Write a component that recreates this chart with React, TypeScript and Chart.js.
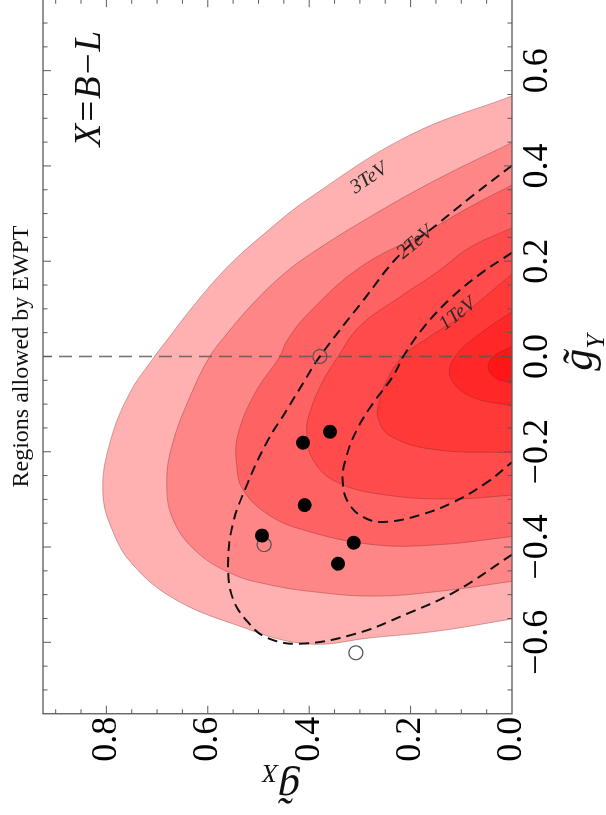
import React, { useEffect, useRef } from 'react';
import { Chart, registerables } from 'chart.js';

Chart.register(...registerables);

// ---------------- data (x axis: g~_Y, y axis: g~_X) ----------------
const gYMin = -0.75;
const gYMax = 0.75;
const gXMin = 0;
const gXMax = 0.925;

// filled EWPT contour levels, outermost first
const level1GY = [0.547, 0.464, 0.333, 0.262, 0.187, 0.104, 0.042, 0.0, -0.077, -0.181, -0.285, -0.368, -0.437, -0.507, -0.561, -0.603, -0.59, -0.576, -0.551];
const level1GX = [0, 0.203, 0.399, 0.484, 0.562, 0.63, 0.675, 0.705, 0.754, 0.793, 0.807, 0.787, 0.748, 0.669, 0.551, 0.407, 0.274, 0.144, 0];

const level2GY = [0.449, 0.374, 0.297, 0.214, 0.166, 0.104, 0.048, 0.0, -0.077, -0.181, -0.264, -0.341, -0.41, -0.457, -0.478, -0.493, -0.503, -0.493, -0.472];
const level2GX = [0, 0.144, 0.274, 0.399, 0.458, 0.517, 0.562, 0.596, 0.632, 0.669, 0.681, 0.669, 0.622, 0.551, 0.484, 0.399, 0.274, 0.144, 0];

const level3GY = [0.36, 0.314, 0.262, 0.187, 0.089, 0.033, 0.0, -0.077, -0.166, -0.229, -0.279, -0.331, -0.364, -0.395, -0.395, -0.378];
const level3GX = [0, 0.083, 0.168, 0.3, 0.403, 0.444, 0.458, 0.507, 0.541, 0.543, 0.531, 0.482, 0.412, 0.274, 0.144, 0];

const level4GY = [0.27, 0.229, 0.177, 0.125, 0.064, 0.0, -0.056, -0.112, -0.154, -0.216, -0.264, -0.291, -0.299, -0.291];
const level4GX = [0, 0.083, 0.148, 0.221, 0.3, 0.343, 0.375, 0.397, 0.405, 0.393, 0.345, 0.247, 0.116, 0];

const level5GY = [0.173, 0.083, 0.042, 0.0, -0.046, -0.091, -0.129, -0.166, -0.195, -0.202];
const level5GX = [0, 0.103, 0.162, 0.215, 0.245, 0.261, 0.264, 0.241, 0.156, 0];

const level6GY = [0.094, 0.048, 0.0, -0.042, -0.083, -0.104];
const level6GX = [0, 0.063, 0.112, 0.122, 0.083, 0];

const level7GY = [0.021, 0.002, -0.021, -0.044, -0.056];
const level7GX = [0, 0.034, 0.047, 0.034, 0];

// dashed mass contours
const tev2GY = [0.401, 0.333, 0.277, 0.214, 0.114, 0.0, -0.056, -0.112, -0.181, -0.27, -0.353, -0.437, -0.507, -0.555, -0.59, -0.603, -0.582, -0.541, -0.493, -0.416];
const tev2GX = [0, 0.083, 0.148, 0.221, 0.296, 0.379, 0.412, 0.444, 0.484, 0.523, 0.551, 0.56, 0.551, 0.523, 0.484, 0.418, 0.308, 0.209, 0.111, 0];

const tev1GY = [0.218, 0.173, 0.121, 0.064, 0.006, -0.042, -0.098, -0.154, -0.208, -0.264, -0.312, -0.341, -0.347, -0.333, -0.306, -0.264, -0.222];
const tev1GX = [0, 0.063, 0.122, 0.172, 0.211, 0.235, 0.274, 0.306, 0.326, 0.334, 0.32, 0.286, 0.247, 0.182, 0.116, 0.049, 0];

// benchmark points
const filledGY = [-0.376, -0.181, -0.158, -0.312, -0.391, -0.435];
const filledGX = [0.493, 0.412, 0.359, 0.409, 0.312, 0.343];
const openGY = [0.0, -0.395, -0.622];
const openGX = [0.379, 0.489, 0.308];

// contour labels
const contourLabels = ['3TeV', '2TeV', '1TeV'];
const contourLabelGY = [0.374, 0.239, 0.089];
const contourLabelGX = [0.282, 0.191, 0.107];

const titleText = 'Regions allowed by EWPT';
const modelText = 'X=B\u2212L';

// ---------------- styling ----------------
const SERIF = "'Liberation Serif', 'DejaVu Serif', serif";
const CW = 824;
const CH = 606;
const levelColors = ['#ffb1b1', '#ff8686', '#ff6262', '#ff4b4b', '#ff3838', '#ff2727', '#ff1717'];

const zip = (xs: number[], ys: number[]) => xs.map((x, i) => ({ x, y: ys[i] }));

const fmt = (v: number) => {
  const s = Math.abs(v) < 1e-9 ? '0.0' : v.toFixed(1);
  return s.replace('-', '\u2212');
};

const decor = {
  id: 'decor',
  afterDatasetsDraw(chart: any) {
    const { ctx, scales } = chart;
    const x = scales.x;
    const y = scales.y;
    ctx.save();
    ctx.fillStyle = '#2a2a2a';
    ctx.font = `italic 20px ${SERIF}`;
    ctx.textAlign = 'center';
    ctx.textBaseline = 'middle';
    const angles = [56, 50, 52];
    contourLabels.forEach((t, i) => {
      const px = x.getPixelForValue(contourLabelGY[i]);
      const py = y.getPixelForValue(contourLabelGX[i]);
      ctx.save();
      ctx.translate(px, py);
      ctx.rotate((angles[i] * Math.PI) / 180);
      ctx.fillText(t, 0, 0);
      ctx.restore();
    });
    ctx.restore();
  },
  afterDraw(chart: any) {
    const { ctx, chartArea: a, scales } = chart;
    const x = scales.x;
    const y = scales.y;
    ctx.save();
    // frame
    ctx.strokeStyle = '#5a5a5a';
    ctx.lineWidth = 1.3;
    ctx.strokeRect(a.left, a.top, a.right - a.left, a.bottom - a.top);
    // inward ticks
    ctx.lineWidth = 1;
    ctx.beginPath();
    for (let k = -14; k <= 14; k++) {
      const v = k * 0.05;
      const len = k % 4 === 0 ? 8 : 4.5;
      const px = x.getPixelForValue(v);
      ctx.moveTo(px, a.bottom);
      ctx.lineTo(px, a.bottom - len);
      ctx.moveTo(px, a.top);
      ctx.lineTo(px, a.top + len);
    }
    for (let k = 1; k <= 18; k++) {
      const v = k * 0.05;
      const len = k % 4 === 0 ? 8 : 4.5;
      const py = y.getPixelForValue(v);
      ctx.moveTo(a.left, py);
      ctx.lineTo(a.left + len, py);
      ctx.moveTo(a.right, py);
      ctx.lineTo(a.right - len, py);
    }
    ctx.stroke();

    ctx.fillStyle = '#111';
    // title
    ctx.font = `24px ${SERIF}`;
    ctx.textAlign = 'center';
    ctx.textBaseline = 'alphabetic';
    ctx.fillText(titleText, (a.left + a.right) / 2, 28);

    // model label
    ctx.font = `italic 37px ${SERIF}`;
    ctx.fillText(modelText, x.getPixelForValue(0.562), 100);

    // x axis title g~_Y
    ctx.textAlign = 'left';
    ctx.font = `italic 44px ${SERIF}`;
    const gx0 = x.getPixelForValue(-0.03);
    ctx.fillText('g\u0303', gx0, 592);
    ctx.font = `italic 26px ${SERIF}`;
    ctx.fillText('Y', gx0 + 22, 604);

    // y axis title g~_X (rotated)
    ctx.save();
    ctx.translate(40, y.getPixelForValue(0.418));
    ctx.rotate(-Math.PI / 2);
    ctx.font = `italic 44px ${SERIF}`;
    ctx.fillText('g\u0303', 0, 0);
    ctx.font = `italic 26px ${SERIF}`;
    ctx.fillText('X', 22, 10);
    ctx.restore();

    ctx.restore();
  },
};

export default function App() {
  const ref = useRef<HTMLCanvasElement>(null);
  useEffect(() => {
    if (!ref.current) return;
    const levels = [
      [level1GY, level1GX],
      [level2GY, level2GX],
      [level3GY, level3GX],
      [level4GY, level4GX],
      [level5GY, level5GX],
      [level6GY, level6GX],
      [level7GY, level7GX],
    ];
    const datasets: any[] = levels.map(([gy, gx], i) => ({
      label: `level ${i + 1}`,
      data: zip(gy, gx),
      showLine: true,
      fill: 'shape',
      backgroundColor: levelColors[i],
      borderColor: 'rgba(120,40,40,0.45)',
      borderWidth: 0.8,
      tension: 0.4,
      pointRadius: 0,
      order: 30 - i,
    }));
    datasets.push({
      label: 'gY=0',
      data: [{ x: 0, y: gXMin }, { x: 0, y: gXMax }],
      showLine: true,
      fill: false,
      borderColor: 'rgba(85,85,85,0.8)',
      borderWidth: 1.6,
      borderDash: [13, 7],
      pointRadius: 0,
      order: 12,
    });
    datasets.push({
      label: '2TeV',
      data: zip(tev2GY, tev2GX),
      showLine: true,
      fill: false,
      borderColor: '#111',
      borderWidth: 2,
      borderDash: [10, 6],
      tension: 0.4,
      pointRadius: 0,
      order: 10,
    });
    datasets.push({
      label: '1TeV',
      data: zip(tev1GY, tev1GX),
      showLine: true,
      fill: false,
      borderColor: '#111',
      borderWidth: 2,
      borderDash: [10, 6],
      tension: 0.4,
      pointRadius: 0,
      order: 9,
    });
    datasets.push({
      label: 'open',
      data: zip(openGY, openGX),
      showLine: false,
      pointRadius: 7,
      pointBackgroundColor: 'rgba(255,255,255,0)',
      pointBorderColor: '#555',
      pointBorderWidth: 1.2,
      order: 6,
    });
    datasets.push({
      label: 'filled',
      data: zip(filledGY, filledGX),
      showLine: false,
      pointRadius: 7,
      pointBackgroundColor: '#000',
      pointBorderColor: '#000',
      pointBorderWidth: 0,
      order: 5,
    });

    const chart = new Chart(ref.current, {
      type: 'scatter',
      data: { datasets },
      options: {
        animation: false,
        responsive: false,
        devicePixelRatio: 1,
        layout: { padding: { left: 0, right: 1.25, top: 43, bottom: 0 } },
        plugins: { legend: { display: false }, tooltip: { enabled: false } },
        scales: {
          x: {
            type: 'linear',
            position: 'bottom',
            min: gYMin,
            max: gYMax,
            grid: { display: false, drawTicks: false },
            border: { display: false },
            ticks: {
              stepSize: 0.2,
              includeBounds: false,
              autoSkip: false,
              maxRotation: 0,
              padding: 4,
              color: '#000',
              font: { family: SERIF, size: 36 },
              callback: (v: any) => fmt(Number(v)),
            },
            afterFit: (s: any) => {
              s.height = 94;
            },
          },
          y: {
            type: 'linear',
            position: 'left',
            min: gXMin,
            max: gXMax,
            grid: { display: false, drawTicks: false },
            border: { display: false },
            ticks: {
              stepSize: 0.2,
              includeBounds: false,
              autoSkip: false,
              padding: 3,
              color: '#000',
              font: { family: SERIF, size: 36 },
              callback: (v: any) => fmt(Number(v)),
            },
            afterFit: (s: any) => {
              s.width = 101.25;
            },
          },
        },
      },
      plugins: [decor],
    } as any);
    return () => chart.destroy();
  }, []);

  return (
    <div
      style={{
        position: 'fixed',
        left: 0,
        top: 0,
        width: CW,
        height: CH,
        transformOrigin: '0 0',
        transform: 'translate(0px, 815px) rotate(-90deg)',
        background: '#fff',
      }}
    >
      <canvas ref={ref} width={CW} height={CH} style={{ display: 'block', width: CW, height: CH }} />
    </div>
  );
}
